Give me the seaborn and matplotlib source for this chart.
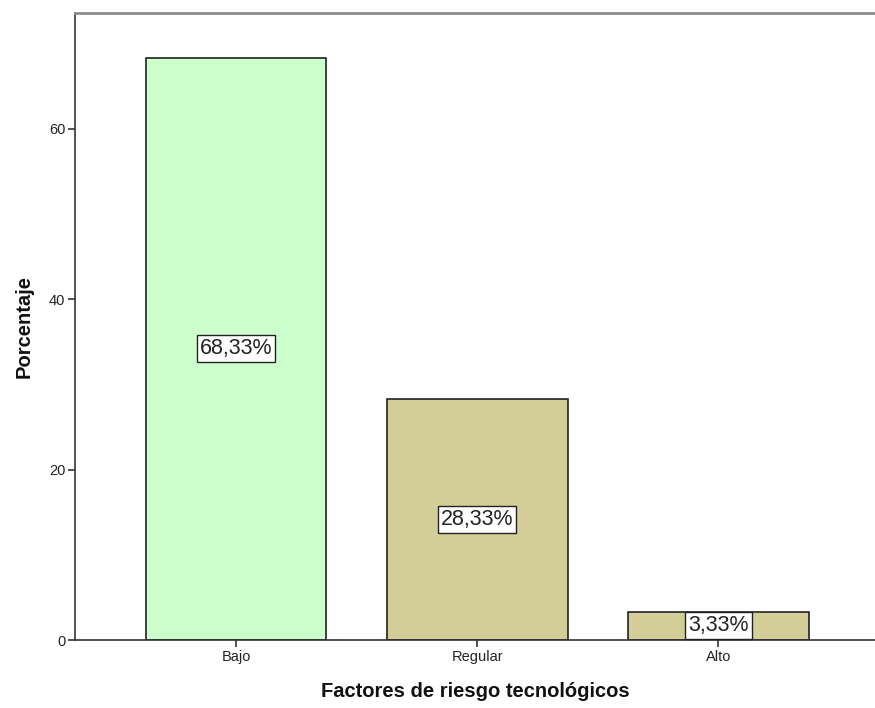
import pandas as pd
import matplotlib
matplotlib.use("Agg")
import matplotlib.pyplot as plt
import seaborn as sns

# Data
categorias = ["Bajo", "Regular", "Alto"]
porcentajes = [68.33, 28.33, 3.33]
etiquetas = ["68,33%", "28,33%", "3,33%"]
colores = ["#CCFFCC", "#D3CE97", "#D3CE97"]

sns.set_style("white")
plt.rcParams["font.family"] = ["Liberation Sans", "DejaVu Sans"]

df = pd.DataFrame({"categoria": categorias, "porcentaje": porcentajes})

fig = plt.figure(figsize=(8.75, 7.08), dpi=100)
ax = fig.add_axes([0.0857, 0.096, 1 - 0.0857, 0.9816 - 0.096])

sns.barplot(data=df, x="categoria", y="porcentaje", hue="categoria",
            palette=colores, saturation=1, width=0.75, edgecolor="#222222",
            linewidth=1.2, legend=False, ax=ax)

# Labels in white boxes at mid-height of bars
for i, (val, txt) in enumerate(zip(porcentajes, etiquetas)):
    ax.text(i, val / 2, txt, ha="center", va="center", fontsize=15.5, color="#222222",
            bbox=dict(boxstyle="square,pad=0.14", facecolor="white", edgecolor="#222222", linewidth=1))

ax.set_xlim(-0.668, 2.65)
ax.set_ylim(0, 73.6)
ax.set_yticks([0, 20, 40, 60])

ax.spines["right"].set_visible(False)
ax.spines["top"].set_color("#8c8c8c")
ax.spines["top"].set_linewidth(2)
ax.spines["left"].set_color("#333333")
ax.spines["bottom"].set_color("#333333")
ax.spines["left"].set_linewidth(1.2)
ax.spines["bottom"].set_linewidth(1.2)

ax.tick_params(axis="both", which="both", length=5, width=1.2, color="#333333",
               labelsize=10.5, bottom=True, left=True, pad=2, labelcolor="#222222")

ax.set_xlabel("Factores de riesgo tecnológicos", fontsize=14.5, fontweight="bold", labelpad=13, color="#111111")
ax.set_ylabel("Porcentaje", fontsize=14.5, fontweight="bold", labelpad=11, color="#111111")

fig.savefig("out.png", dpi=100)
plt.close(fig)
